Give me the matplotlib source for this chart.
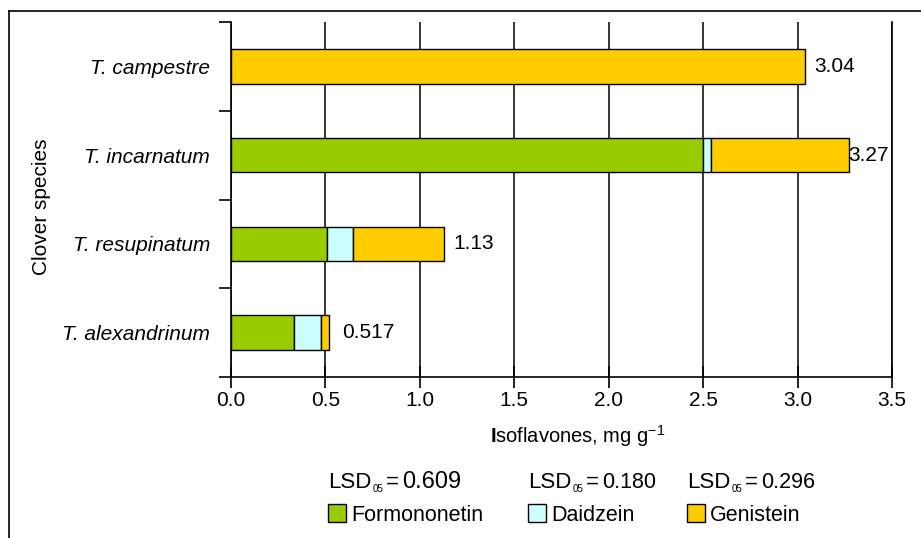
import matplotlib.pyplot as plt
from matplotlib.patches import Rectangle
from matplotlib.lines import Line2D

plt.rcParams['font.family'] = ['Liberation Sans', 'DejaVu Sans']
plt.rcParams['mathtext.fontset'] = 'custom'
plt.rcParams['mathtext.rm'] = 'Liberation Sans'
plt.rcParams['mathtext.bf'] = 'Liberation Sans:bold'

species = ['T. alexandrinum', 'T. resupinatum', 'T. incarnatum', 'T. campestre']
formononetin = [0.335, 0.51, 2.50, 0.0]
daidzein = [0.14, 0.135, 0.04, 0.0]
genistein = [0.042, 0.485, 0.73, 3.04]
totals = ['0.517', '1.13', '3.27', '3.04']
label_gap = [0.07, 0.05, 0.0, 0.05]
lsd = ['0.609', '0.180', '0.296']
lsd_size = [17, 15.5, 15.5]
components = ['Formononetin', 'Daidzein', 'Genistein']
colors = ['#99CC00', '#CCFFFF', '#FFCC00']

W, H = 921, 538
fig = plt.figure(figsize=(W / 100, H / 100), dpi=100)
ax = fig.add_axes([231 / W, 1 - 377 / H, 661 / W, 355 / H])

y = range(len(species))
left = [0.0] * len(species)
for vals, col in zip([formononetin, daidzein, genistein], colors):
    ax.barh(y, vals, left=left, height=0.39, color=col, edgecolor='black',
            linewidth=1.0, zorder=3)
    left = [l + v for l, v in zip(left, vals)]

for i in y:
    ax.text(left[i] + label_gap[i], i, totals[i], va='center', ha='left',
            fontsize=15, zorder=4)

ax.set_xlim(0, 3.5)
ax.set_ylim(-0.5, 3.5)
ax.set_xticks([0, 0.5, 1.0, 1.5, 2.0, 2.5, 3.0, 3.5])
ax.set_xticklabels(['0.0', '0.5', '1.0', '1.5', '2.0', '2.5', '3.0', '3.5'])
ax.set_yticks([-0.5, 0.5, 1.5, 2.5, 3.5])
ax.set_yticklabels([])
ax.set_yticks(list(y), minor=True)
ax.set_yticklabels(species, minor=True, fontstyle='italic', fontsize=15)
ax.tick_params(axis='y', which='minor', length=0, pad=15)
ax.tick_params(axis='y', which='major', direction='out', length=9, width=1.2)
ax.tick_params(axis='x', direction='inout', length=16, width=1.2, labelsize=15, pad=2)
ax.grid(axis='x', color='black', linewidth=1.1, zorder=0)
ax.spines['top'].set_visible(False)
for s in ['left', 'bottom', 'right']:
    ax.spines[s].set_linewidth(1.2)

ax.set_xlabel(r'$\mathbf{I}$soflavones, mg g$^{\mathregular{-1}}$', fontsize=14.5)
ax.xaxis.set_label_coords(0.525, -0.13)
fig.text(0.045, 0.615, 'Clover species', rotation=90, fontsize=15,
         ha='center', va='center')

# LSD lines: "LSD" + tiny subscript + "= value"
col_px = [328, 528, 687]
for xp, v, fs in zip(col_px, lsd, lsd_size):
    base = 1 - 488 / H
    fig.text(xp / W, base, 'LSD', fontsize=16, ha='left', va='baseline')
    fig.text((xp + 45) / W, base - 4 / H, '05', fontsize=7, ha='left', va='baseline')
    fig.text((xp + 58) / W, base, '=', fontsize=16, ha='left', va='baseline')
    fig.text((xp + 74) / W, base, v, fontsize=fs, ha='left', va='baseline')

# legend drawn by hand so the columns line up with the LSD labels
for xp, name, col in zip(col_px, components, colors):
    fig.add_artist(Rectangle((xp / W, 1 - 522 / H), 18 / W, 18 / H, facecolor=col,
                             edgecolor='black', linewidth=1.0))
    fig.text((xp + 23) / W, 1 - 521 / H, name, fontsize=15.5,
             ha='left', va='baseline')

fig.add_artist(Line2D([9 / W, 1.0], [1 - 11 / H, 1 - 11 / H], color='black', linewidth=1.2))
fig.add_artist(Line2D([9 / W, 9 / W], [0.0, 1 - 11 / H], color='black', linewidth=1.2))

fig.savefig('out.png', dpi=100)
